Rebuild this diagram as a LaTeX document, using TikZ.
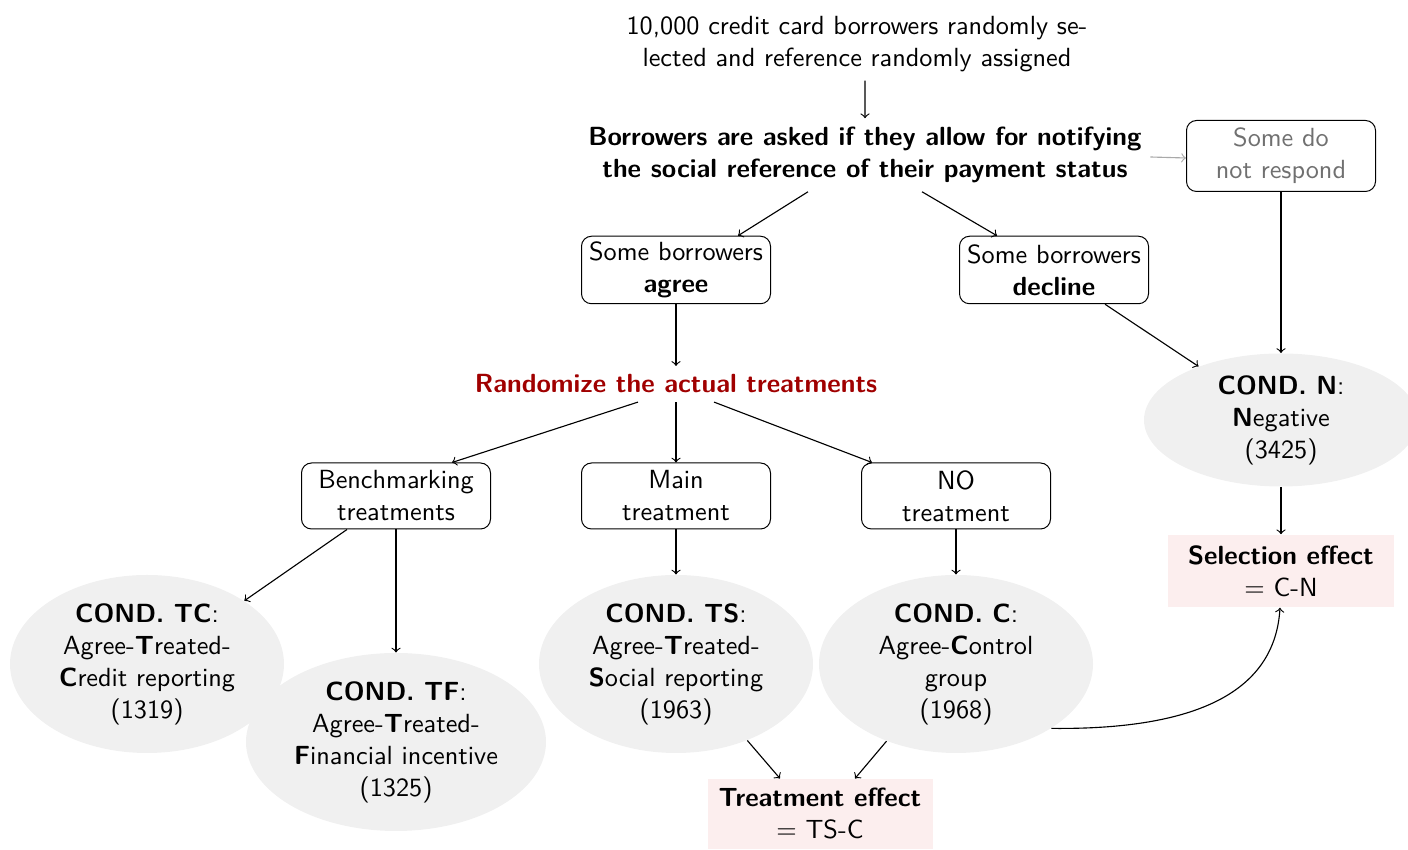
\documentclass[tikz,border=0pt]{standalone}
\usetikzlibrary{shapes.geometric}
\definecolor{ellgray}{HTML}{F0F0F0}
\definecolor{pinkfill}{HTML}{FCEEEE}
\definecolor{darkred}{HTML}{A00000}
\definecolor{txtgray}{HTML}{707070}
\begin{document}
\begin{tikzpicture}[x=0.4pt,y=-0.4pt,
  font=\sffamily\fontsize{10.5}{12.8}\selectfont,
  every node/.style={align=center},
  arr/.style={->,>=to, line width=0.45pt},
  rbox/.style={draw, rounded corners=4pt, minimum width=75.6pt, minimum height=27pt, inner sep=1pt},
  cond/.style={ellipse, fill=ellgray, inner sep=0pt, minimum width=109.6pt, minimum height=71.2pt},
  effect/.style={fill=pinkfill, minimum width=90.4pt, minimum height=29pt, inner sep=1pt},
  bold/.style={font=\sffamily\bfseries\fontsize{10.5}{12.8}\selectfont}]
\useasboundingbox (0,0) rectangle (1408,850);
\node (top) at (857,44) {10,000 credit card borrowers randomly se-\\lected and reference randomly assigned};
\node[bold] (ask) at (865,155) {Borrowers are asked if they allow for notifying\\the social reference of their payment status};
\node[rbox, text=txtgray, minimum height=28.4pt] (nr) at (1281,156) {Some do\\not respond};
\node[rbox] (agree) at (676,270) {Some borrowers\\\textbf{agree}};
\node[rbox] (decline) at (1054,270) {Some borrowers\\\textbf{decline}};
\node[text=darkred, bold] (rand) at (676,384) {Randomize the actual treatments};
\node[rbox, minimum height=26.4pt] (bench) at (396,496) {Benchmarking\\treatments};
\node[rbox, minimum height=26.4pt] (main) at (676,496) {Main\\treatment};
\node[rbox, minimum height=26.4pt] (notr) at (956,496) {NO\\treatment};
\node[cond] (tc) at (147,664) {\textbf{COND. TC}:\\Agree-\textbf{T}reated-\\\textbf{C}redit reporting\\(1319)};
\node[cond, minimum width=120pt] (tf) at (396,742) {\textbf{COND. TF}:\\Agree-\textbf{T}reated-\\\textbf{F}inancial incentive\\(1325)};
\node[cond] (ts) at (676,664) {\textbf{COND. TS}:\\Agree-\textbf{T}reated-\\\textbf{S}ocial reporting\\(1963)};
\node[cond] (c) at (956,664) {\textbf{COND. C}:\\Agree-\textbf{C}ontrol\\group\\(1968)};
\node[cond, minimum height=53.2pt] (n) at (1281,420) {\textbf{COND. N}:\\\textbf{N}egative\\(3425)};
\node[effect] (sel) at (1281,571) {\textbf{Selection effect}\\= C-N};
\node[effect, minimum width=90pt, minimum height=28pt] (te) at (820,814) {\textbf{Treatment effect}\\= TS-C};
% connectors
\draw[arr] ([xshift=3.2pt]top.south) -- (ask.north);
\draw[arr, txtgray!60] ([yshift=-0.8pt]ask.east) -- ([yshift=-0.8pt]nr.west);
\draw[arr] ([xshift=-22.8pt]ask.south) -- ([xshift=24.8pt]agree.north);
\draw[arr] ([xshift=22.8pt]ask.south) -- ([xshift=-22.8pt]decline.north);
\draw[arr] (agree.south) -- (rand.north);
\draw[arr] ([xshift=-15.2pt]rand.south) -- ([xshift=22.4pt]bench.north);
\draw[arr] (rand.south) -- (main.north);
\draw[arr] ([xshift=15.2pt]rand.south) -- ([xshift=-33.6pt]notr.north);
\draw[arr] ([xshift=-19.6pt]bench.south) -- (tc.33);
\draw[arr] (bench.south) -- (tf.north);
\draw[arr] (main.south) -- (ts.north);
\draw[arr] (notr.south) -- (c.north);
\draw[arr] ([xshift=20.4pt]decline.south) -- (n.147);
\draw[arr] (nr.south) -- (n.north);
\draw[arr] (n.south) -- (sel.north);
\draw[arr] (ts.-47) -- ([xshift=-16pt]te.north);
\draw[arr] (c.-132) -- ([xshift=14pt]te.north);
\draw[arr] (c.-34) .. controls (1200,730) and (1275,690) .. ([xshift=-0.4pt]sel.south);
\end{tikzpicture}
\end{document}
